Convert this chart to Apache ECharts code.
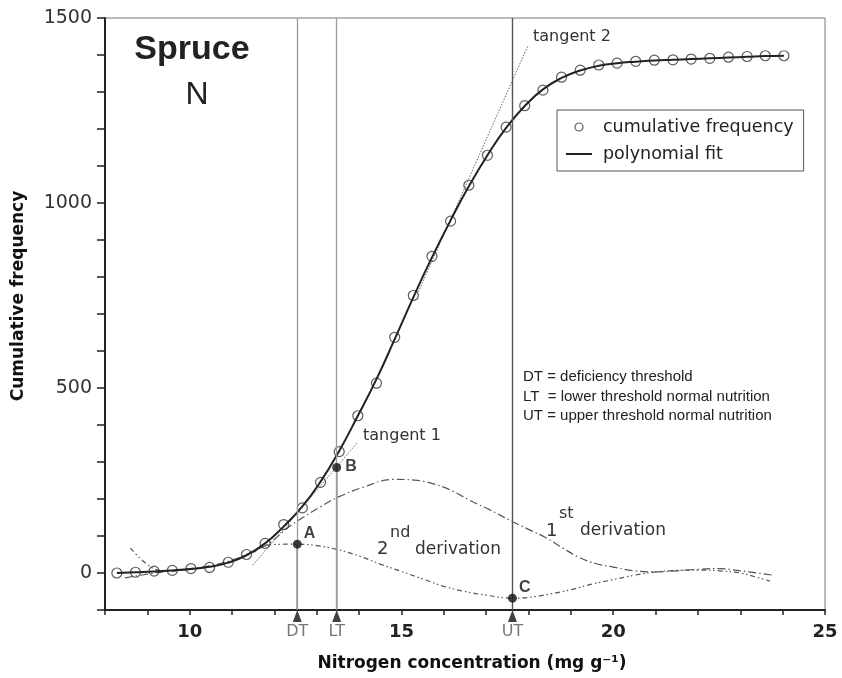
<!DOCTYPE html>
<html><head><meta charset="utf-8">
<script src="https://cdn.jsdelivr.net/npm/echarts@6/dist/echarts.min.js"></script>
<style>html,body{margin:0;padding:0;background:#fff}#c{width:842px;height:678px}</style>
</head><body><div id="c"></div>
<script>
// cumulative frequency (circles)
const freqX = [8.28, 8.72, 9.16, 9.59, 10.03, 10.47, 10.91, 11.34, 11.78, 12.22, 12.66, 13.09, 13.53, 13.97, 14.41, 14.84, 15.28, 15.72, 16.16, 16.59, 17.03, 17.47, 17.91, 18.34, 18.78, 19.22, 19.66, 20.09, 20.53, 20.97, 21.41, 21.84, 22.28, 22.72, 23.16, 23.59, 24.03];
const freqY = [0, 2, 5, 7, 12, 15, 29, 50, 80, 131, 176, 245, 328, 425, 513, 637, 750, 856, 951, 1048, 1129, 1205, 1263, 1305, 1340, 1359, 1373, 1378, 1383, 1386, 1387, 1389, 1391, 1394, 1396, 1398, 1398];
// polynomial fit (at the same x positions)
const fitY = [0, 2, 4, 7, 11, 17, 28, 48, 80, 126, 180, 247, 330, 425, 524, 632, 745, 853, 953, 1045, 1129, 1203, 1262, 1307, 1338, 1358, 1371, 1378, 1382, 1385, 1387, 1389, 1391, 1393, 1395, 1397, 1398];
// 1st derivation
const deriv1X = [8.47, 9.0, 9.5, 10.0, 10.5, 11.0, 11.5, 11.9, 12.3, 12.7, 13.1, 13.5, 14.1, 14.8, 15.3, 15.7, 16.2, 16.6, 17.1, 17.6, 18.0, 18.4, 18.8, 19.2, 19.6, 20.0, 20.5, 21.0, 21.5, 22.0, 22.5, 23.0, 23.4, 23.77];
const deriv1Y = [-13, -3, 5, 12, 20, 35, 58, 82, 121, 152, 180, 205, 232, 253, 251, 243, 222, 197, 170, 140, 118, 96, 68, 42, 25, 16, 6, 3, 6, 10, 12, 6, 0, -6];
// 2nd derivation (scaled)
const deriv2X = [8.6, 9.1, 9.5, 10.0, 10.5, 11.0, 11.5, 11.75, 12.0, 12.54, 13.0, 13.5, 14.0, 14.5, 15.0, 15.5, 16.0, 16.5, 17.0, 17.62, 18.0, 18.5, 19.0, 19.5, 20.0, 20.5, 21.0, 21.5, 22.0, 22.5, 23.0, 23.4, 23.7];
const deriv2Y = [67, 15, 5, 10, 18, 32, 56, 72, 77, 78, 74, 63, 46, 24, 4, -16, -36, -50, -60, -68, -66, -57, -45, -30, -18, -6, 3, 7, 8, 6, 0, -12, -22];
// tangents
const tangent1X = [11.49, 13.97];
const tangent1Y = [21, 354];
const tangent2X = [15.4, 17.99];
const tangent2Y = [760, 1426];
// thresholds and characteristic points
const thresholdNames = ['DT', 'LT', 'UT'];
const thresholdX = [12.54, 13.47, 17.62];
const pointNames = ['A', 'B', 'C'];
const pointY = [78, 285, -68];
// tick labels
const xTickLabels = [10, 15, 20, 25];
const yTickLabels = [0, 500, 1000, 1500];

const zip = (xs, ys) => xs.map((x, i) => [x, ys[i]]);
const Y_MIN = -100, Y_MAX = 1500;

const chart = echarts.init(document.getElementById('c'), null, {renderer: 'canvas'});

const darkDrops = [0, 1].map(i => ({
  type: 'line', silent: true, symbol: 'none', z: 2,
  data: [[thresholdX[i], pointY[i]], [thresholdX[i], Y_MIN]],
  lineStyle: {color: '#444', width: 1.4}
}));

const option = {
  animation: false,
  backgroundColor: '#fff',
  grid: {left: 105, right: 17, top: 18, bottom: 68, show: true, borderColor: '#777', borderWidth: 1},
  xAxis: {
    type: 'value', min: 8, max: 25, interval: 1,
    axisLine: {onZero: false, lineStyle: {color: '#222', width: 2}},
    axisTick: {length: 5, lineStyle: {color: '#222', width: 1.5}},
    splitLine: {show: false},
    axisLabel: {
      formatter: v => xTickLabels.includes(v) ? String(v) : '',
      fontFamily: 'DejaVu Sans', fontWeight: 'bold', fontSize: 18, color: '#222', margin: 13
    }
  },
  yAxis: {
    type: 'value', min: Y_MIN, max: Y_MAX, interval: 100,
    axisLine: {show: true, lineStyle: {color: '#222', width: 2}},
    axisTick: {show: true, length: 8, lineStyle: {color: '#222', width: 1.5}},
    splitLine: {show: false},
    axisLabel: {
      formatter: v => yTickLabels.includes(v) ? String(v) : '',
      fontFamily: 'DejaVu Sans', fontSize: 19, color: '#333', margin: 13
    }
  },
  legend: {
    data: [
      {name: 'cumulative frequency', icon: 'circle', itemStyle: {color: '#fff', borderColor: '#333', borderWidth: 1.2}},
      {name: 'polynomial fit', icon: 'path://M0,0 L26,0 L26,2 L0,2 Z', itemStyle: {color: '#222'}}
    ],
    orient: 'vertical', left: 557, top: 110,
    itemWidth: 26, itemHeight: 8, itemGap: 9,
    padding: [8, 10, 8, 9],
    borderColor: '#555', borderWidth: 1, backgroundColor: '#fff',
    textStyle: {fontFamily: 'DejaVu Sans', fontSize: 17.5, color: '#222', padding: [0, 0, 0, 6]}
  },
  series: [
    {
      name: 'cumulative frequency', type: 'scatter', z: 3,
      data: zip(freqX, freqY), symbol: 'circle', symbolSize: 10,
      itemStyle: {color: 'rgba(255,255,255,0)', borderColor: '#333', borderWidth: 1.2}
    },
    {
      name: 'polynomial fit', type: 'line', z: 4, smooth: 0.5, symbol: 'none',
      data: zip(freqX, fitY),
      itemStyle: {color: '#222'},
      lineStyle: {color: '#222', width: 2}
    },
    {
      name: '1st derivation', type: 'line', smooth: 0.4, symbol: 'none', z: 2,
      data: zip(deriv1X, deriv1Y),
      lineStyle: {color: '#555', width: 1.2, type: [8, 3, 1.5, 3]},
      markLine: {
        silent: true, symbol: 'none', label: {show: false},
        data: [
          {xAxis: thresholdX[0], lineStyle: {color: '#9a9a9a', width: 1.3, type: 'solid'}},
          {xAxis: thresholdX[1], lineStyle: {color: '#9a9a9a', width: 1.3, type: 'solid'}},
          {xAxis: thresholdX[2], lineStyle: {color: '#555', width: 1.4, type: 'solid'}}
        ]
      }
    },
    {
      name: '2nd derivation', type: 'line', smooth: 0.4, symbol: 'none', z: 2,
      data: zip(deriv2X, deriv2Y),
      lineStyle: {color: '#555', width: 1.2, type: [5, 3, 1.5, 2.5, 1.5, 3]}
    },
    {
      name: 'tangent 1', type: 'line', symbol: 'none', z: 2,
      data: zip(tangent1X, tangent1Y),
      lineStyle: {color: '#666', width: 1, type: [1.5, 1.5]}
    },
    {
      name: 'tangent 2', type: 'line', symbol: 'none', z: 2,
      data: zip(tangent2X, tangent2Y),
      lineStyle: {color: '#666', width: 1, type: [1.5, 1.5]}
    },
    ...darkDrops,
    {
      name: 'points', type: 'scatter', z: 6, symbol: 'circle', symbolSize: 9,
      itemStyle: {color: '#111'},
      data: pointNames.map((n, i) => ({
        name: n, value: [thresholdX[i], pointY[i]],
        label: {offset: i === 1 ? [2, -1] : [0, -11]}
      })),
      label: {
        show: true, position: 'right', distance: 2, formatter: p => p.name,
        fontFamily: 'Liberation Sans', fontWeight: 'bold', fontSize: 16, color: '#111'
      }
    },
    {
      name: 'arrows', type: 'scatter', z: 6, clip: false, symbol: 'triangle', symbolSize: [9, 12],
      symbolOffset: [0, 6], itemStyle: {color: '#111'},
      data: thresholdNames.map((n, i) => ({name: n, value: [thresholdX[i], Y_MIN]})),
      label: {
        show: true, position: 'bottom', distance: 2, formatter: p => p.name,
        fontFamily: 'DejaVu Sans', fontSize: 16, color: '#555'
      }
    }
  ],
  graphic: [
    {type: 'text', x: 192, y: 50, style: {text: 'Spruce', fill: '#222', font: 'bold 34px "Liberation Sans"', textAlign: 'center', textVerticalAlign: 'middle'}},
    {type: 'text', x: 197, y: 95, style: {text: 'N', fill: '#222', font: '32px "Liberation Sans"', textAlign: 'center', textVerticalAlign: 'middle'}},
    {type: 'text', x: 533, y: 37, style: {text: 'tangent 2', fill: '#333', font: '16px "DejaVu Sans"', textAlign: 'left', textVerticalAlign: 'middle'}},
    {type: 'text', x: 363, y: 436, style: {text: 'tangent 1', fill: '#333', font: '16px "DejaVu Sans"', textAlign: 'left', textVerticalAlign: 'middle'}},
    {type: 'text', x: 377, y: 549, style: {text: '2', fill: '#333', font: '18px "DejaVu Sans"', textAlign: 'left', textVerticalAlign: 'middle'}},
    {type: 'text', x: 390, y: 533, style: {text: 'nd', fill: '#333', font: '16px "DejaVu Sans"', textAlign: 'left', textVerticalAlign: 'middle'}},
    {type: 'text', x: 415, y: 550, style: {text: 'derivation', fill: '#333', font: '17px "DejaVu Sans"', textAlign: 'left', textVerticalAlign: 'middle'}},
    {type: 'text', x: 546, y: 531, style: {text: '1', fill: '#333', font: '18px "DejaVu Sans"', textAlign: 'left', textVerticalAlign: 'middle'}},
    {type: 'text', x: 559, y: 514, style: {text: 'st', fill: '#333', font: '16px "DejaVu Sans"', textAlign: 'left', textVerticalAlign: 'middle'}},
    {type: 'text', x: 580, y: 531, style: {text: 'derivation', fill: '#333', font: '17px "DejaVu Sans"', textAlign: 'left', textVerticalAlign: 'middle'}},
    {type: 'text', x: 523, y: 377, style: {text: 'DT = deficiency threshold', fill: '#222', font: '15px "Liberation Sans"', textVerticalAlign: 'middle'}},
    {type: 'text', x: 523, y: 397, style: {text: 'LT  = lower threshold normal nutrition', fill: '#222', font: '15px "Liberation Sans"', textVerticalAlign: 'middle'}},
    {type: 'text', x: 523, y: 416, style: {text: 'UT = upper threshold normal nutrition', fill: '#222', font: '15px "Liberation Sans"', textVerticalAlign: 'middle'}},
    {type: 'text', x: 19, y: 296, rotation: Math.PI / 2, style: {text: 'Cumulative frequency', fill: '#111', font: 'bold 17px "DejaVu Sans"', textAlign: 'center', textVerticalAlign: 'middle'}},
    {type: 'text', x: 472, y: 664, style: {text: 'Nitrogen concentration (mg g\u207B\u00B9)', fill: '#111', font: 'bold 17px "DejaVu Sans"', textAlign: 'center', textVerticalAlign: 'middle'}}
  ]
};
chart.setOption(option);
</script>
</body></html>
